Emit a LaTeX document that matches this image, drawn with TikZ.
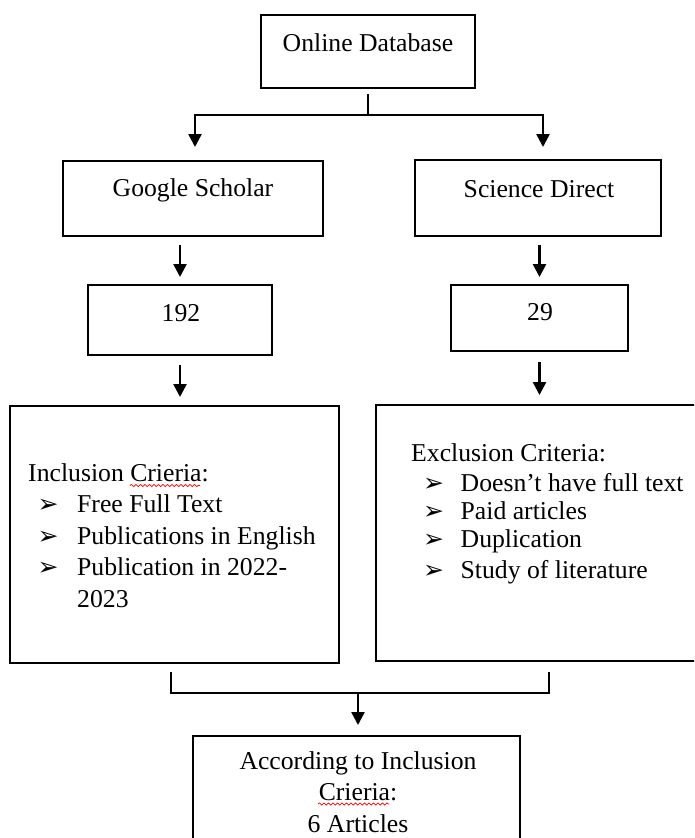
\documentclass[tikz,border=0pt]{standalone}
\usepackage{fontspec}
\setmainfont{Liberation Serif}
\newfontfamily\dejavu{DejaVu Sans}
\usetikzlibrary{arrows.meta,decorations.pathmorphing}
\newcommand{\blt}{{\dejavu\fontsize{25}{25}\selectfont ➢}}
\newcommand{\bitem}[1]{\makebox[39.5pt][l]{\blt}#1}
\begin{document}
\begin{tikzpicture}[x=1pt,y=-1pt,
  box/.style={draw, line width=2.5pt, inner sep=0pt, outer sep=0pt, anchor=north west},
  txt/.style={inner sep=0pt, font=\fontsize{25.7}{32}\selectfont},
  conn/.style={line width=2.5pt},
  arr/.style={conn, -{Triangle[width=13pt,length=13pt]}},
  wavy/.style={red, line width=0.7pt, decorate, decoration={snake, amplitude=1.1pt, segment length=4.5pt}}]
\useasboundingbox (0,0) rectangle (694,838);
\clip (0,0) rectangle (694,838);
\fill[white] (0,0) rectangle (694,838);

% boxes
\node[box, minimum width=214pt, minimum height=73pt] (top) at (261,15) {};
\node[box, minimum width=260pt, minimum height=75pt] (gs) at (63,161) {};
\node[box, minimum width=246pt, minimum height=76pt] (sd) at (415,160) {};
\node[box, minimum width=184pt, minimum height=70pt] (n192) at (88,285) {};
\node[box, minimum width=177pt, minimum height=66pt] (n29) at (451,285) {};
\node[box, minimum width=329pt, minimum height=257pt] (inc) at (10,406) {};
\node[box, minimum width=330pt, minimum height=256pt] (exc) at (376,405) {};
\node[box, minimum width=327pt, minimum height=130pt] (res) at (193,736) {};

% texts
\node[txt, anchor=base] (tTop) at (368,51) {Online Database};
\node[txt, anchor=base] (tGs) at (193,196) {Google Scholar};
\node[txt, anchor=base] (tSd) at (539,197) {Science Direct};
\node[txt, anchor=base] (t192) at (181,321) {192};
\node[txt, anchor=base] (t29) at (540,320) {29};

\node[txt, anchor=base west] (tInc) at (28,481) {Inclusion Crieria:};
\node[txt, anchor=base west] (i1) at (37.5,512) {\bitem{Free Full Text}};
\node[txt, anchor=base west] (i2) at (37.5,544) {\bitem{Publications in English}};
\node[txt, anchor=base west] (i3) at (37.5,575) {\bitem{Publication in 2022-}};
\node[txt, anchor=base west] (i4) at (77,607) {2023};

\node[txt, anchor=base west] (tExc) at (411,461) {Exclusion Criteria:};
\node[txt, anchor=base west] (e1) at (423,491) {\makebox[37.5pt][l]{\blt}Doesn’t have full text};
\node[txt, anchor=base west] (e2) at (423,519) {\makebox[37.5pt][l]{\blt}Paid articles};
\node[txt, anchor=base west] (e3) at (423,547) {\makebox[37.5pt][l]{\blt}Duplication};
\node[txt, anchor=base west] (e4) at (423,578) {\makebox[37.5pt][l]{\blt}Study of literature};

\node[txt, anchor=base] (r1) at (358,769) {According to Inclusion};
\node[txt, anchor=base] (r2) at (358,800) {Crieria:};
\node[txt, anchor=base] (r3) at (358,832) {6 Articles};

% spelling marks
\draw[wavy] (130,485.5) -- (200,485.5);
\draw[wavy] (318,804) -- (389,804);

% connectors
\coordinate (j1) at (368,115);
\coordinate (a1) at (195,147);
\coordinate (a2) at (543,147);
\draw[conn, shorten <=6pt] (top.south) -- (j1);
\draw[arr] (j1) -| (a1);
\draw[arr] (j1) -| (a2);

\draw[arr, shorten <=9pt, shorten >=8pt] (gs.south -| n192.north) -- (n192.north);
\draw[arr, shorten <=9pt, shorten >=8pt] (sd.south -| n29.north) -- (n29.north);
\draw[arr, shorten <=10pt, shorten >=9pt] (n192.south) -- (n192.south |- inc.north);
\draw[arr, shorten <=11pt, shorten >=10pt] (n29.south) -- (n29.south |- exc.north);

\coordinate (b1) at (171,672);
\coordinate (b2) at (549,672);
\coordinate (j2) at (358,693);
\draw[conn] (b1) -- (b1 |- j2) -- (b2 |- j2) -- (b2);
\draw[arr, shorten >=11pt] (j2) -- (j2 |- res.north);
\end{tikzpicture}
\end{document}
